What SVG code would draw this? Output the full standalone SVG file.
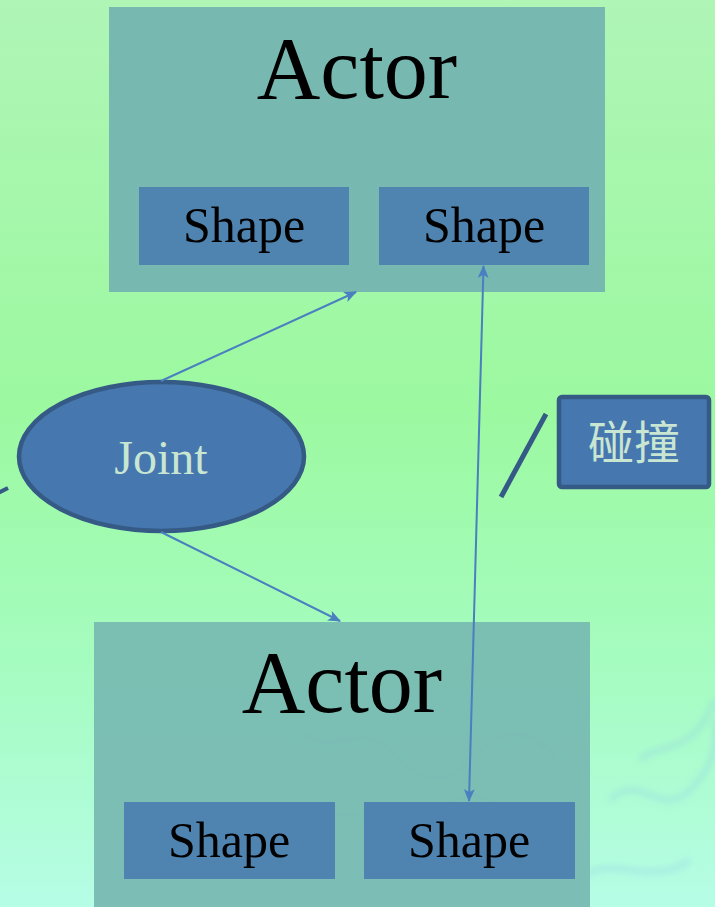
<svg xmlns="http://www.w3.org/2000/svg" width="715" height="907" viewBox="0 0 715 907">
  <defs>
    <linearGradient id="bg" x1="0" y1="0" x2="0" y2="1">
      <stop offset="0" stop-color="#aff5b6"/>
      <stop offset="0.45" stop-color="#9cf9a0"/>
      <stop offset="0.75" stop-color="#a6fcc2"/>
      <stop offset="1" stop-color="#b6fde6"/>
    </linearGradient>
    <filter id="soft" x="-10%" y="-10%" width="120%" height="120%">
      <feGaussianBlur stdDeviation="3"/>
    </filter>
    <marker id="arrow" viewBox="0 0 12 10" refX="11" refY="5" markerWidth="13" markerHeight="11" markerUnits="userSpaceOnUse" orient="auto-start-reverse">
      <path d="M0,0 L12,5 L0,10 L3,5 z" fill="#4a7fc0"/>
    </marker>
    <style>
      .actor { fill: #77b8b1; }
      .shape { fill: #4f84b1; }
      .dark { fill: #4677ae; stroke: #345a85; stroke-width: 4.5; }
      .big { font-family: "Liberation Serif", "DejaVu Serif", serif; font-size: 88px; fill: #000; text-anchor: middle; }
      .mid { font-family: "Liberation Serif", "DejaVu Serif", serif; font-size: 50px; fill: #000; text-anchor: middle; }
      .light { font-family: "Liberation Serif", "Noto Sans CJK SC", serif; fill: #c9e6d2; text-anchor: middle; }
      .conn { stroke: #4a7fc0; stroke-width: 2; fill: none; }
    </style>
  </defs>

  <!-- backdrop -->
  <rect x="0" y="0" width="715" height="907" fill="url(#bg)"/>
  <!-- faint lace ornament, lower right -->
  <g fill="none" stroke="#8cc8e8" stroke-width="6" opacity="0.3" filter="url(#soft)">
    <path d="M300,730 C330,760 360,720 390,750 S440,790 470,760 S520,720 560,760"/>
    <path d="M330,820 C360,800 380,840 420,820 S470,780 500,810"/>
    <path d="M610,800 C640,770 660,820 690,790 S715,740 715,720"/>
    <path d="M580,880 C610,850 650,890 690,860"/>
    <path d="M640,760 C660,740 690,760 715,700"/>
  </g>

  <!-- upper actor -->
  <g id="actor-top">
    <rect class="actor" x="109" y="7" width="496" height="285"/>
    <text class="big" x="357" y="98">Actor</text>
  </g>
  <g id="shape-top-left">
    <rect class="shape" x="139" y="187" width="210" height="78"/>
    <text class="mid" x="244" y="242">Shape</text>
  </g>
  <g id="shape-top-right">
    <rect class="shape" x="379" y="187" width="210" height="78"/>
    <text class="mid" x="484" y="242">Shape</text>
  </g>

  <!-- joint -->
  <g id="joint">
    <ellipse class="dark" cx="161.5" cy="456.5" rx="142.5" ry="74.5"/>
    <text class="light" x="161" y="474" font-size="48">Joint</text>
  </g>

  <!-- collision label -->
  <g id="collision">
    <rect class="dark" x="559" y="397" width="150" height="90" rx="3"/>
    <text class="light" x="634" y="459" font-size="46">碰撞</text>
  </g>

  <!-- lower actor -->
  <g id="actor-bottom">
    <rect class="actor" x="94" y="622" width="496" height="290" opacity="0.92"/>
    <text class="big" x="342" y="712">Actor</text>
  </g>
  <g id="shape-bottom-left">
    <rect class="shape" x="124" y="802" width="211" height="77"/>
    <text class="mid" x="229" y="857">Shape</text>
  </g>
  <g id="shape-bottom-right">
    <rect class="shape" x="364" y="802" width="211" height="77"/>
    <text class="mid" x="469" y="857">Shape</text>
  </g>

  <!-- connectors, drawn over the nodes -->
  <g id="connectors">
    <line class="conn" x1="161" y1="381" x2="356" y2="292" marker-end="url(#arrow)"/>
    <line class="conn" x1="161" y1="532" x2="340" y2="621" marker-end="url(#arrow)"/>
    <line class="conn" x1="483.5" y1="266" x2="469" y2="801" marker-start="url(#arrow)" marker-end="url(#arrow)"/>
    <line x1="546" y1="414" x2="501" y2="497" stroke="#345a85" stroke-width="5"/>
    <line x1="-6" y1="495" x2="8" y2="488" stroke="#345a85" stroke-width="4"/>
  </g>
</svg>
